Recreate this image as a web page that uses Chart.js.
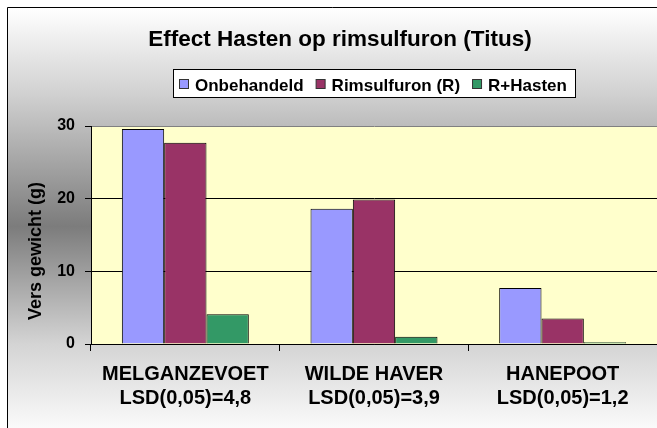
<!DOCTYPE html>
<html lang="nl">
<head>
  <meta charset="UTF-8">
  <title>Effect Hasten op rimsulfuron (Titus)</title>
  <script src="https://cdn.jsdelivr.net/npm/chart.js"></script>
  <style>
    html, body { margin: 0; padding: 0; background: #fff; }
  </style>
</head>
<body>
  <canvas id="chart" width="657" height="428"></canvas>

  <script>
    // data
    const categories = ['MELGANZEVOET', 'WILDE HAVER', 'HANEPOOT'];
    const lsdLabels = ['LSD(0,05)=4,8', 'LSD(0,05)=3,9', 'LSD(0,05)=1,2'];
    const seriesNames = ['Onbehandeld', 'Rimsulfuron (R)', 'R+Hasten'];
    const onbehandeld = [29.6, 18.6, 7.7];
    const rimsulfuron = [27.7, 19.9, 3.5];
    const rHasten = [4.1, 1.0, 0.25];
    const yTicks = [0, 10, 20, 30];

    const chartTitle = 'Effect Hasten op rimsulfuron (Titus)';
    const yTitle = 'Vers gewicht (g)';
    const colors = ['#9999FF', '#993366', '#339966'];
    const FONT = 'Arial, "Liberation Sans", sans-serif';

    Chart.defaults.font.family = FONT;
    Chart.defaults.color = '#000';

    // gray gradient backdrop, frame and yellow plot area
    const backdrop = {
      id: 'backdrop',
      beforeDraw(chart) {
        const { ctx, width, height, chartArea } = chart;
        ctx.save();
        const g = ctx.createLinearGradient(0, 8, 0, height);
        g.addColorStop(0, '#ffffff');
        g.addColorStop(0.2, '#d2d2d2');
        g.addColorStop(0.52, '#7c7c7c');
        g.addColorStop(0.8, '#d4d4d4');
        g.addColorStop(1, '#fafafa');
        ctx.fillStyle = g;
        ctx.fillRect(0, 0, width, height);
        ctx.fillStyle = '#fff';
        ctx.fillRect(0, 0, width, 7);
        ctx.fillRect(0, 0, 7, height);
        ctx.strokeStyle = '#000';
        ctx.lineWidth = 1;
        ctx.beginPath();
        ctx.moveTo(7.5, height);
        ctx.lineTo(7.5, 7.5);
        ctx.lineTo(width, 7.5);
        ctx.stroke();
        ctx.fillStyle = '#FFFFCC';
        ctx.fillRect(chartArea.left, chartArea.top, chartArea.right - chartArea.left, chartArea.bottom - chartArea.top);
        ctx.restore();
      }
    };

    // title, boxed legend and rotated axis title
    const texts = {
      id: 'texts',
      afterDraw(chart) {
        const ctx = chart.ctx;
        ctx.save();
        ctx.fillStyle = '#000';
        ctx.font = 'bold 22.5px ' + FONT;
        ctx.textAlign = 'center';
        ctx.textBaseline = 'alphabetic';
        ctx.fillText(chartTitle, 340, 46);

        // legend
        ctx.fillStyle = '#fff';
        ctx.fillRect(173.5, 69.5, 402, 28);
        ctx.strokeStyle = '#000';
        ctx.lineWidth = 1;
        ctx.strokeRect(173.5, 69.5, 402, 28);
        ctx.font = 'bold 17px ' + FONT;
        ctx.textAlign = 'left';
        ctx.textBaseline = 'alphabetic';
        let x = 179;
        chart.data.datasets.forEach(ds => {
          ctx.fillStyle = ds.backgroundColor;
          ctx.fillRect(x + 0.5, 79.5, 9, 9);
          ctx.strokeStyle = '#333';
          ctx.strokeRect(x + 0.5, 79.5, 9, 9);
          ctx.fillStyle = '#000';
          ctx.fillText(ds.label, x + 16, 90.5);
          x += 16 + ctx.measureText(ds.label).width + 12;
        });

        // y axis title
        ctx.font = 'bold 18px ' + FONT;
        ctx.textAlign = 'center';
        ctx.translate(41, 251);
        ctx.rotate(-Math.PI / 2);
        ctx.fillText(yTitle, 0, 0);
        ctx.restore();
      }
    };

    const ctx = document.getElementById('chart').getContext('2d');
    const chart = new Chart(ctx, {
      type: 'bar',
      data: {
        labels: categories.map((c, i) => [c, lsdLabels[i]]),
        datasets: [
          { label: seriesNames[0], data: onbehandeld, backgroundColor: colors[0] },
          { label: seriesNames[1], data: rimsulfuron, backgroundColor: colors[1] },
          { label: seriesNames[2], data: rHasten, backgroundColor: colors[2] }
        ]
      },
      options: {
        responsive: false,
        animation: false,
        layout: { padding: { top: 126, left: 0, right: 0, bottom: 0 } },
        datasets: {
          bar: {
            borderColor: '#000',
            borderWidth: 1,
            borderSkipped: 'start',
            categoryPercentage: 0.673,
            barPercentage: 1
          }
        },
        plugins: {
          legend: { display: false },
          title: { display: false },
          tooltip: { enabled: false }
        },
        scales: {
          x: {
            afterFit: s => { s.height = 84; },
            grid: { offset: true, drawOnChartArea: false, tickLength: 7, tickColor: '#000' },
            border: { color: '#000', width: 1 },
            ticks: {
              font: { size: 20, weight: 'bold', lineHeight: 1.2 },
              color: '#000',
              padding: 11,
              maxRotation: 0,
              autoSkip: false
            }
          },
          y: {
            min: 0,
            max: 30,
            afterFit: s => { s.width = 91; },
            afterBuildTicks: s => { s.ticks = yTicks.map(v => ({ value: v })); },
            grid: {
              color: c => (c.tick && c.tick.value === 30 ? '#808080' : '#000'),
              tickColor: '#000',
              tickLength: 6
            },
            border: { color: '#000', width: 1 },
            ticks: {
              font: { size: 16, weight: 'bold' },
              color: '#000',
              padding: 10
            }
          }
        }
      },
      plugins: [backdrop, texts]
    });
  </script>
</body>
</html>
